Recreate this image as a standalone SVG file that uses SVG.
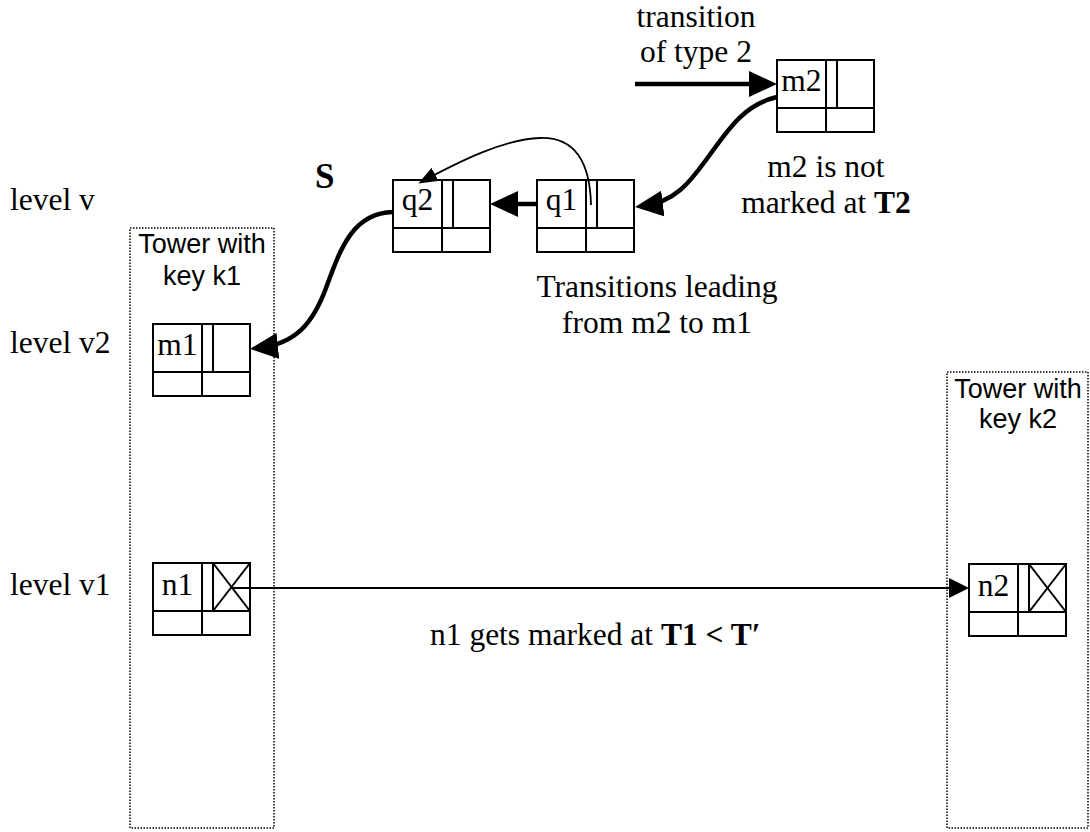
<svg xmlns="http://www.w3.org/2000/svg" width="1090" height="832" viewBox="0 0 1090 832">
  <style>
    .serif { font-family: "Liberation Serif", "Times New Roman", serif; font-size: 31.5px; fill: #000; }
    .sans { font-family: "Liberation Sans", Arial, sans-serif; font-size: 27px; fill: #000; }
    .mid { text-anchor: middle; }
    .b { font-weight: bold; }
    .big { font-size: 35px; }
    .cell { fill: #fff; stroke: #000; stroke-width: 2; }
    .ln { stroke: #000; stroke-width: 2; fill: none; }
    .tower { fill: none; stroke: #000; stroke-width: 1.5; stroke-dasharray: 1.5 1.5; }
    .thick { fill: none; stroke: #000; stroke-width: 4.5; }
    .thin { fill: none; stroke: #000; stroke-width: 1.8; }
  </style>
  <defs>
    <marker id="headBig" viewBox="0 0 28 26" markerWidth="28" markerHeight="26" refX="20" refY="13" orient="auto" markerUnits="userSpaceOnUse">
      <path d="M0,0 L28,13 L0,26 z" fill="#000"/>
    </marker>
    <marker id="headMid" viewBox="0 0 20 20" markerWidth="20" markerHeight="20" refX="16" refY="10" orient="auto" markerUnits="userSpaceOnUse">
      <path d="M0,0 L20,10 L0,20 z" fill="#000"/>
    </marker>
    <marker id="headSmall" viewBox="0 0 19 15" markerWidth="19" markerHeight="15" refX="16" refY="7.5" orient="auto" markerUnits="userSpaceOnUse">
      <path d="M0,0 L19,7.5 L0,15 z" fill="#000"/>
    </marker>
    <!-- list node: key cell, pointer cell with mark bit, two lower cells -->
    <g id="node">
      <rect class="cell" x="0" y="0" width="97" height="72"/>
      <line class="ln" x1="0" y1="48" x2="97" y2="48"/>
      <line class="ln" x1="49" y1="0" x2="49" y2="72"/>
      <line class="ln" x1="60" y1="0" x2="60" y2="48"/>
    </g>
    <g id="cross">
      <line class="ln" x1="60" y1="0" x2="97" y2="48"/>
      <line class="ln" x1="97" y1="0" x2="60" y2="48"/>
    </g>
  </defs>

  <!-- side labels -->
  <g id="levels">
    <text class="serif" x="10" y="210">level v</text>
    <text class="serif" x="10" y="353">level v2</text>
    <text class="serif" x="10" y="595">level v1</text>
  </g>

  <!-- towers -->
  <g id="tower-k1">
    <rect class="tower" x="130" y="228" width="144" height="600"/>
    <text class="sans mid" x="202" y="253">Tower with</text>
    <text class="sans mid" x="202" y="285">key k1</text>
  </g>
  <g id="tower-k2">
    <rect class="tower" x="947" y="372" width="141" height="456"/>
    <text class="sans mid" x="1018" y="398">Tower with</text>
    <text class="sans mid" x="1018" y="428">key k2</text>
  </g>

  <!-- nodes -->
  <g id="m2">
    <use href="#node" x="777" y="60"/>
    <text class="serif mid" x="801.5" y="91">m2</text>
  </g>
  <g id="q1">
    <use href="#node" x="537" y="180"/>
    <text class="serif mid" x="561.5" y="210">q1</text>
  </g>
  <g id="q2">
    <use href="#node" x="393" y="180"/>
    <text class="serif mid" x="417.5" y="210">q2</text>
  </g>
  <g id="m1">
    <use href="#node" x="153" y="324"/>
    <text class="serif mid" x="177.5" y="355">m1</text>
  </g>
  <g id="n1">
    <use href="#node" x="153" y="563"/>
    <use href="#cross" x="153" y="563"/>
    <text class="serif mid" x="177.5" y="595">n1</text>
  </g>
  <g id="n2">
    <use href="#node" x="969" y="564"/>
    <use href="#cross" x="969" y="564"/>
    <text class="serif mid" x="993.5" y="596">n2</text>
  </g>

  <!-- connectors -->
  <g id="connectors">
    <line class="thick" x1="635" y1="84" x2="769" y2="84" marker-end="url(#headBig)"/>
    <path class="thick" d="M777,97 C742,105 726,133 706,160 C690,182 675,202 643,206" marker-end="url(#headBig)"/>
    <line class="thick" x1="537" y1="204" x2="498" y2="204" marker-end="url(#headBig)"/>
    <path class="thin" d="M591,205 C590,162 575,137 540,138 C505,139 462,160 421,182" marker-end="url(#headSmall)"/>
    <path class="thick" d="M393,212 C352,213 340,250 326,288 C313,323 296,344 258,348" marker-end="url(#headBig)"/>
    <line class="thin" x1="231" y1="588" x2="965" y2="588" marker-end="url(#headMid)"/>
  </g>

  <!-- annotations -->
  <g id="labels">
    <text class="serif mid" x="696" y="27">transition</text>
    <text class="serif mid" x="696" y="62">of type 2</text>
    <text class="serif b big" x="315" y="188">S</text>
    <text class="serif mid" x="826" y="177">m2 is not</text>
    <text class="serif mid" x="826" y="213">marked at <tspan class="b">T2</tspan></text>
    <text class="serif mid" x="657" y="297">Transitions leading</text>
    <text class="serif mid" x="657" y="333">from m2 to m1</text>
    <text class="serif" x="430" y="645">n1 gets marked at <tspan class="b">T1 &lt; T′</tspan></text>
  </g>
</svg>
